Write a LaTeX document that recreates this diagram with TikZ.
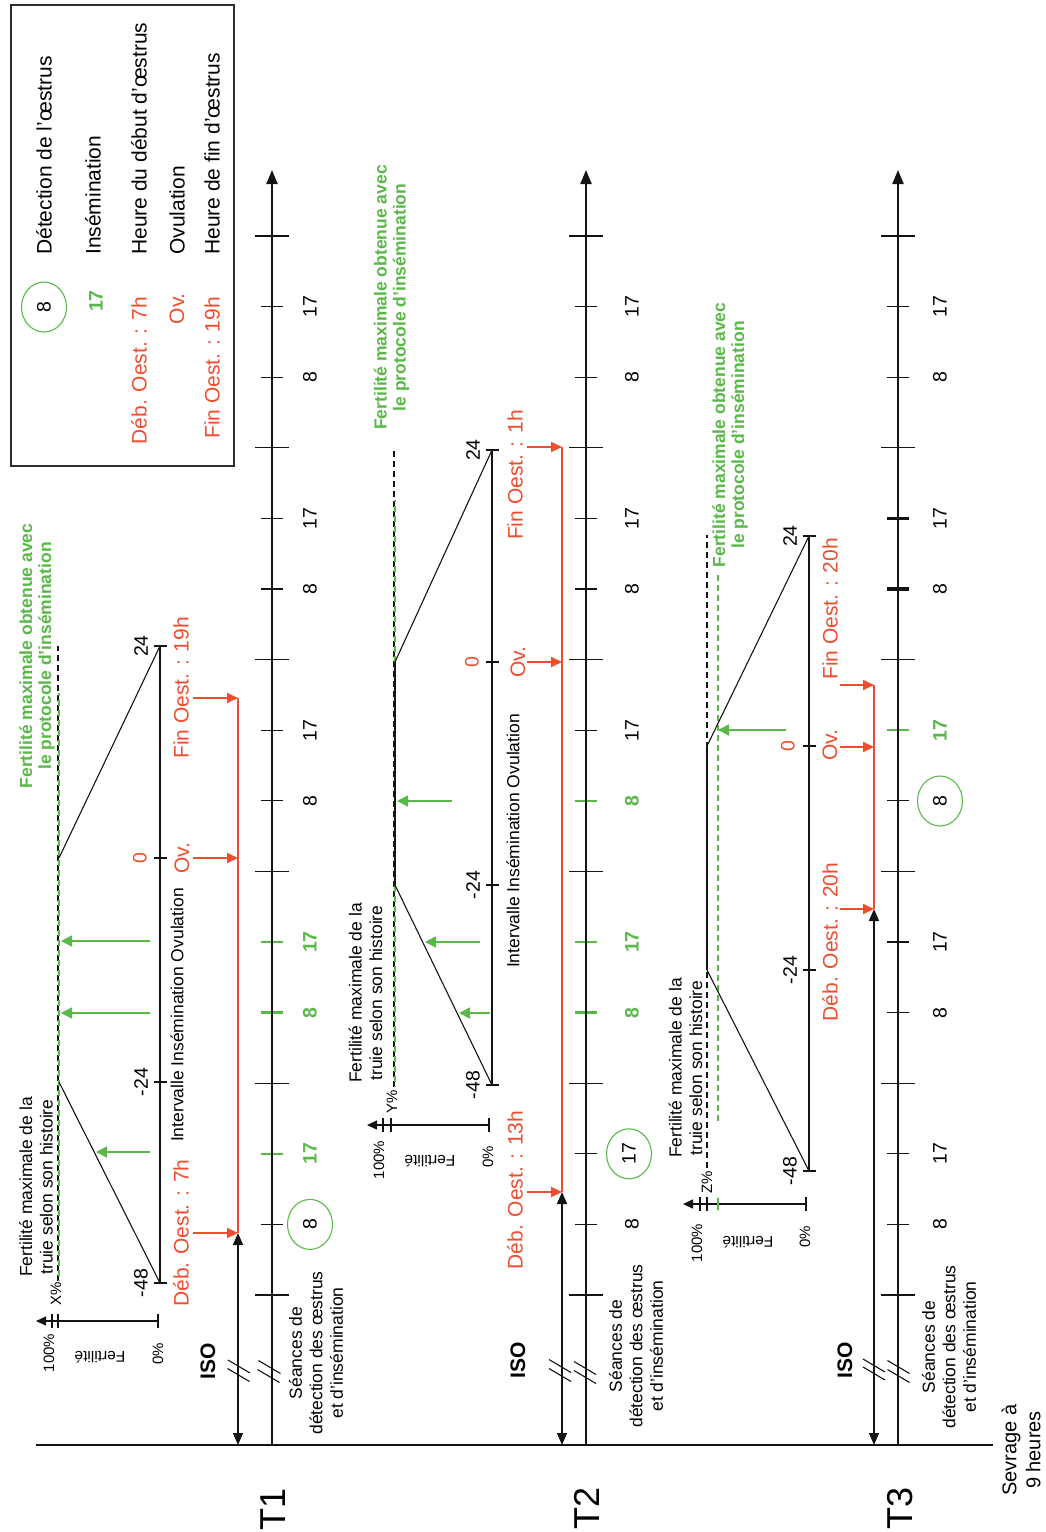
\documentclass[tikz,border=0pt]{standalone}
\usepackage{fontspec}
\setmainfont{Liberation Sans}
\usepackage{tikz}
\usetikzlibrary{arrows.meta,calc,shapes.geometric}
\definecolor{Ink}{HTML}{141414}
\definecolor{Frame}{HTML}{2E2E2E}
\definecolor{Green}{HTML}{5AB849}
\definecolor{Red}{HTML}{EE4D2E}

\begin{document}
\begin{tikzpicture}[x=1pt,y=-1pt,
  timeaxis/.style={draw=Ink,line width=2.2pt,-{Triangle[length=14pt,width=11pt]}},
  hourtick/.style={draw=Ink,line width=1.3pt},
  gtick/.style={draw=Green,line width=2.4pt},
  hourlbl/.style={rotate=90,font=\fontsize{19.5}{22}\selectfont},
  inslbl/.style={rotate=90,text=Green,font=\fontsize{19.5}{22}\selectfont\bfseries},
  seance/.style={ellipse,draw=Green,line width=1.1pt,rotate=90,minimum width=50pt,minimum height=45pt,inner sep=0pt,font=\fontsize{19.5}{22}\selectfont},
  note/.style={rotate=90,align=center,font=\fontsize{17.5}{20.5}\selectfont},
  gnote/.style={rotate=90,align=center,text=Green,font=\fontsize{17.5}{19}\selectfont\bfseries},
  rlbl/.style={rotate=90,inner sep=0pt,text=Red,font=\fontsize{21}{24}\selectfont},
  legtxt/.style={rotate=90,anchor=west,inner sep=0pt,font=\fontsize{21}{24}\selectfont},
  scalelbl/.style={rotate=90,font=\fontsize{15}{17}\selectfont},
  flip/.style={rotate=180,font=\fontsize{15.5}{17}\selectfont},
  isolbl/.style={rotate=90,font=\fontsize{21}{24}\selectfont\bfseries},
  rowlbl/.style={rotate=90,font=\fontsize{36}{40}\selectfont},
  iso/.style={draw=Ink,line width=1.6pt,{Triangle[length=12pt,width=10pt]}-{Triangle[length=12pt,width=10pt]}},
  oest/.style={draw=Red,line width=1.4pt},
  rarrow/.style={draw=Red,line width=1.8pt,-{Triangle[length=11pt,width=10pt]}},
  garrow/.style={draw=Green,line width=1.8pt,-{Triangle[length=11pt,width=11pt]}},
  profile/.style={draw=Ink,line width=1.1pt},
  plateau/.style={draw=Ink,line width=2.2pt},
  hist/.style={draw=Ink,line width=1.1pt,dash pattern=on 6pt off 4pt},
  gmax/.style={draw=Green,line width=1.2pt,dash pattern=on 6pt off 4pt},
  scaleaxis/.style={draw=Ink,line width=1.4pt,-{Triangle[length=10pt,width=9pt]}},
  brk/.style={draw=Ink,line width=1.1pt}
]
  \useasboundingbox (0,0) rectangle (1045,1532);

  % legend
  \draw[Frame,line width=1.5pt] (11,5) rectangle (234,466);
  \node[seance] (legdet) at (44,307) {8};
  \node[inslbl] (legins) at (96,301) {17};
  \node[rlbl,anchor=east] (legdeb) at (139,297) {Déb. Oest. : 7h};
  \node[rlbl,anchor=east] (legov) at (177,293) {Ov.};
  \node[rlbl,anchor=east] (legfin) at (212,297) {Fin Oest. : 19h};
  \node[legtxt] (legdett) at (44,255) {Détection de l’œstrus};
  \node[legtxt] (leginst) at (93,255) {Insémination};
  \node[legtxt] (legdebt) at (139,255) {Heure du début d’œstrus};
  \node[legtxt] (legovt) at (177,255) {Ovulation};
  \node[legtxt] (legfint) at (212,255) {Heure de fin d’œstrus};

  % weaning line and rows
  \draw[Ink,line width=1.3pt] (36,1445) -- (993,1445);
  \node[rowlbl] (rowA) at (273,1509) {T1};
  \node[rowlbl] (rowB) at (587,1508) {T2};
  \node[rowlbl] (rowC) at (900,1508) {T3};
  \node[note,font=\fontsize{20}{24}\selectfont] (sevrage) at (1021,1450) {Sevrage à\\9 heures};

  \foreach \ax in {272,586,898}{
    \foreach \ty in {236,447.8,659.6,871.4,1083.2,1295}
      \draw[hourtick] (\ax-17,\ty) -- (\ax+17,\ty);
    \foreach \ty in {306.6,377.2,518.4,589,730.2,800.8,942,1012.6,1153.8,1224.4}
      \draw[hourtick] (\ax-11,\ty) -- (\ax+11,\ty);
  }

  % T1
  \foreach \ty/\h [count=\i] in {306.6/17,377.2/8,518.4/17,589/8,730.2/17,800.8/8}
    \node[hourlbl] (hA\i) at (310,\ty) {\h};
  \foreach \ty/\h [count=\i] in {942/17,1012.6/8,1153.8/17}{
    \draw[gtick] (261,\ty) -- (283,\ty);
    \node[inslbl] (iA\i) at (310,\ty) {\h};
  }
  \node[seance] (sA) at (310,1224.4) {8};
  \node[note] (seanceA) at (316,1353) {Séances de\\détection des œstrus\\et d’insémination};
  \coordinate (wA) at (238,1445);
  \coordinate (debA) at (238,1233);
  \coordinate (ovA) at (238,858);
  \coordinate (finA) at (238,698);
  \draw[iso] (wA) -- (debA);
  \draw[oest] (debA) -- (finA);
  \foreach \c in {debA,ovA,finA}
    \draw[rarrow] ($(\c)-(45,0)$) -- (\c);
  \node[isolbl] (isoA) at (208,1361) {ISO};
  \node[rlbl] (debAl) at (181,1233) {Déb. Oest. : 7h};
  \node[rlbl] (ovAl) at (182,858) {Ov.};
  \node[rlbl] (finAl) at (181,688) {Fin Oest. : 19h};
  \foreach \bx/\by in {239/1366.5,238.5/1375,269.5/1367,268.5/1376}
    \draw[brk] (\bx-11,\by-6.5) -- (\bx+11,\by+6.5);
  \draw[profile] (160,1283) -- (160,646);
  \foreach \ty/\h [count=\i] in {1283/-48,1082/-24,646/24}{
    \draw[profile] (154,\ty) -- (167,\ty);
    \node[hourlbl] (kA\i) at (141,\ty) {\h};
  }
  \draw[profile] (154,858) -- (167,858);
  \node[hourlbl,text=Red] (oA) at (140,858) {0};
  \draw[hist] (58,1281) -- (58,646);
  \draw[gmax,dash phase=5pt] (59,1281) -- (59,693);
  \draw[profile] (160,1283) -- (59,1082);
  \draw[profile] (59,858) -- (160,646);
  \draw[garrow] (150,941) -- (61,941);
  \draw[garrow] (150,1013) -- (61,1013);
  \draw[garrow] (150,1152) -- (96,1152);
  \node[scalelbl] (xA) at (56,1294) {X\%};
  \draw[scaleaxis] (158,1321) -- (36,1321);
  \draw[profile] (158,1314) -- (158,1328);
  \draw[profile] (52,1314) -- (52,1328);
  \draw[profile] (58,1314) -- (58,1328);
  \node[scalelbl] (fullA) at (49,1353) {100\%};
  \node[scalelbl] (nilA) at (158,1354) {0\%};
  \node[flip] (fertA) at (100,1357) {Fertilité};
  \node[note] (histA) at (36,1187) {Fertilité maximale de la\\truie selon son histoire};
  \node[gnote] (maxA) at (37,656) {Fertilité maximale obtenue avec\\le protocole d’insémination};
  \node[note] (iioA) at (177,1015) {Intervalle Insémination Ovulation};

  % T2
  \foreach \ty/\h [count=\i] in {306.6/17,377.2/8,518.4/17,589/8,730.2/17,1224.4/8}
    \node[hourlbl] (hB\i) at (632,\ty) {\h};
  \foreach \ty/\h [count=\i] in {800.8/8,942/17,1012.6/8}{
    \draw[gtick] (575,\ty) -- (597,\ty);
    \node[inslbl] (iB\i) at (632,\ty) {\h};
  }
  \node[seance] (sB) at (629,1153.8) {17};
  \node[note] (seanceB) at (636,1346) {Séances de\\détection des œstrus\\et d’insémination};
  \coordinate (wB) at (562,1445);
  \coordinate (debB) at (562,1192);
  \coordinate (ovB) at (562,662);
  \coordinate (finB) at (562,447);
  \draw[iso] (wB) -- (debB);
  \draw[oest] (debB) -- (finB);
  \foreach \c in {debB,ovB,finB}
    \draw[rarrow] ($(\c)-(35,0)$) -- (\c);
  \node[isolbl] (isoB) at (518,1360) {ISO};
  \node[rlbl] (debBl) at (515,1190) {Déb. Oest. : 13h};
  \node[rlbl] (ovBl) at (518,662) {Ov.};
  \node[rlbl] (finBl) at (515,475) {Fin Oest. : 1h};
  \foreach \bx/\by in {560/1366,560/1375,585/1368,585/1377}
    \draw[brk] (\bx-11,\by-6.5) -- (\bx+11,\by+6.5);
  \draw[profile] (492,1085) -- (492,450);
  \foreach \ty/\h [count=\i] in {1085/-48,885/-24,450/24}{
    \draw[profile] (486,\ty) -- (499,\ty);
    \node[hourlbl] (kB\i) at (473,\ty) {\h};
  }
  \draw[profile] (486,662) -- (499,662);
  \node[hourlbl,text=Red] (oB) at (472,662) {0};
  \draw[hist] (394,1087) -- (394,450);
  \draw[gmax,dash phase=5pt] (395,1087) -- (395,500);
  \draw[profile] (492,1085) -- (395,885);
  \draw[plateau] (395,885) -- (395,662);
  \draw[profile] (395,662) -- (492,450);
  \draw[garrow] (452,801) -- (397,801);
  \draw[garrow] (480,942) -- (425,942);
  \draw[garrow] (490,1013) -- (459,1013);
  \node[scalelbl] (yB) at (392,1102) {Y\%};
  \draw[scaleaxis] (489,1125) -- (367,1125);
  \draw[profile] (489,1118) -- (489,1132);
  \draw[profile] (383,1118) -- (383,1132);
  \draw[profile] (391,1118) -- (391,1132);
  \node[scalelbl] (fullB) at (379,1160) {100\%};
  \node[scalelbl] (nilB) at (488,1157) {0\%};
  \node[flip] (fertB) at (430,1161) {Fertilité};
  \node[note] (histB) at (365.5,993) {Fertilité maximale de la\\truie selon son histoire};
  \node[gnote] (maxB) at (391.5,297.5) {Fertilité maximale obtenue avec\\le protocole d’insémination};
  \node[note] (iioB) at (513,841) {Intervalle Insémination Ovulation};

  % T3
  \foreach \ty/\h [count=\i] in {306.6/17,377.2/8,518.4/17,589/8,942/17,1012.6/8,1153.8/17,1224.4/8}
    \node[hourlbl] (hC\i) at (940,\ty) {\h};
  \draw[gtick] (887,730.2) -- (909,730.2);
  \node[inslbl] (iC1) at (940,730.2) {17};
  \draw[Ink,line width=3.2pt] (887,518.4) -- (909,518.4);
  \draw[Ink,line width=3.2pt] (887,589) -- (909,589);
  \node[seance] (sC) at (940,801) {8};
  \node[note] (seanceC) at (949,1347) {Séances de\\détection des œstrus\\et d’insémination};
  \coordinate (wC) at (874,1445);
  \coordinate (debC) at (874,909);
  \coordinate (ovC) at (874,747);
  \coordinate (finC) at (874,685);
  \draw[iso] (wC) -- (debC);
  \draw[oest] (debC) -- (finC);
  \foreach \c in {debC,ovC,finC}
    \draw[rarrow] ($(\c)-(34,0)$) -- (\c);
  \node[isolbl] (isoC) at (845,1360) {ISO};
  \node[rlbl] (debCl) at (830,942) {Déb. Oest. : 20h};
  \node[rlbl] (ovCl) at (830,745) {Ov.};
  \node[rlbl] (finCl) at (830,609) {Fin Oest. : 20h};
  \foreach \bx/\by in {874/1365.5,874/1373.5,898.5/1367,898.5/1376}
    \draw[brk] (\bx-11,\by-6.5) -- (\bx+11,\by+6.5);
  \draw[profile] (809,1171) -- (809,536);
  \foreach \ty/\h [count=\i] in {1171/-48,970/-24,536/24}{
    \draw[profile] (803,\ty) -- (816,\ty);
    \node[hourlbl] (kC\i) at (790,\ty) {\h};
  }
  \draw[profile] (803,746) -- (816,746);
  \node[hourlbl,text=Red] (oC) at (788,746) {0};
  \draw[hist] (707,1168) -- (707,535);
  \draw[gmax] (718,1121) -- (718,575);
  \draw[profile] (809,1171) -- (707,970);
  \draw[plateau] (707,970) -- (707,746);
  \draw[profile] (707,746) -- (809,536);
  \draw[garrow] (786,730) -- (718,730);
  \node[scalelbl] (zC) at (707,1182) {Z\%};
  \draw[scaleaxis] (806,1204) -- (683,1204);
  \draw[profile] (806,1197) -- (806,1211);
  \draw[profile] (700,1197) -- (700,1211);
  \draw[profile] (707,1197) -- (707,1211);
  \draw[gtick] (718,1198) -- (718,1210);
  \node[scalelbl] (fullC) at (697,1243) {100\%};
  \node[scalelbl] (nilC) at (805,1237) {0\%};
  \node[flip] (fertC) at (748,1242) {Fertilité};
  \node[note] (histC) at (685.5,1068) {Fertilité maximale de la\\truie selon son histoire};
  \node[gnote] (maxC) at (730,435) {Fertilité maximale obtenue avec\\le protocole d’insémination};

  % time axes on top
  \foreach \ax in {272,586,898}
    \draw[timeaxis] (\ax,1445) -- (\ax,170);
\end{tikzpicture}
\end{document}
